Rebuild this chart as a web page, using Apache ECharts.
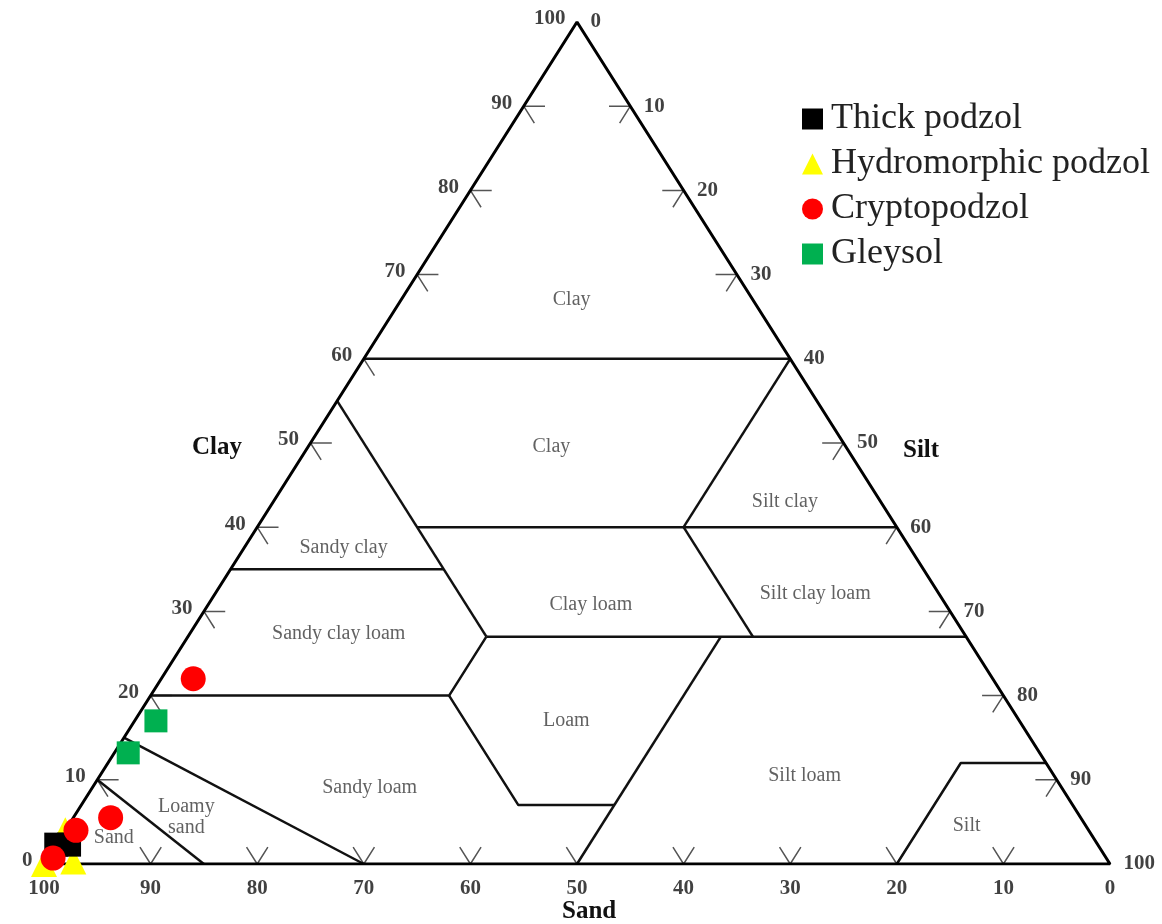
<!DOCTYPE html>
<html><head><meta charset="utf-8">
<script src="https://cdn.jsdelivr.net/npm/echarts@6/dist/echarts.min.js"></script>
<style>html,body{margin:0;padding:0;background:#fff}#c{width:1162px;height:924px}</style>
</head><body><div id="c"></div>
<script>
// ---- data (ternary points are [sand, silt, clay] in %) ----
const clayTicks = [0,10,20,30,40,50,60,70,80,90,100];
const siltTicks = [0,10,20,30,40,50,60,70,80,90,100];
const sandTicks = [100,90,80,70,60,50,40,30,20,10,0];
const arrowTicks = [10,20,30,40,50,60,70,80,90];
const seriesNames = ['Thick podzol','Hydromorphic podzol','Cryptopodzol','Gleysol'];
const thickPodzol = [[97.7,0,2.3],[96.5,1.2,2.3]];
const hydromorphicPodzol = [[100,0,0],[97.1,2.6,0.3],[96,0,4]];
const cryptopodzol = [[98.8,0.5,0.7],[95,1,4],[91,3.5,5.5],[75,3,22]];
const gleysol = [[81,2,17],[85,1.3,13.2]];
const outline = [[100,0,0],[0,100,0],[0,0,100],[100,0,0]];
const classBoundaries = [
  [[40,0,60],[0,40,60]],
  [[45,0,55],[45,28,27]],
  [[45,15,40],[0,60,40]],
  [[20,40,40],[0,40,60]],
  [[20,40,40],[20,53,27]],
  [[65,0,35],[45,20,35]],
  [[45,28,27],[0,73,27]],
  [[80,0,20],[52,28,20],[45,28,27]],
  [[52,28,20],[52,41,7],[43,50,7]],
  [[50,50,0],[23,50,27]],
  [[85,0,15],[70,30,0]],
  [[90,0,10],[85,15,0]],
  [[20,80,0],[8,80,12],[0,88,12]]
];
const classNames = ['Clay','Clay','Silt clay','Sandy clay','Clay loam','Silt clay loam','Sandy clay loam','Loam','Sandy loam','Silt loam','Silt','Loamy\nsand','Sand'];
const classAnchors = [[17,16,67],[27.6,22.8,49.6],[9,48,43],[53.1,9.3,37.6],[33.3,35.9,30.8],[11.6,56.3,32.1],[58.7,14,27.3],[42.5,40.5,17],[64.9,26,9.1],[23.4,66.1,10.5],[11.2,84.3,4.5],[83.9,10.6,5.5],[91.9,5,3.1]];

// ---- helpers ----
const toXY = t => [t[1] + t[2] / 2, t[2]];
const FONT = 'Liberation Serif';

const series = [];
series.push({type:'line', data: outline.map(toXY), symbol:'none', silent:true, z:5,
  lineStyle:{color:'#000', width:3}});
classBoundaries.forEach(pl => series.push({type:'line', data: pl.map(toXY), symbol:'none', silent:true, z:4,
  lineStyle:{color:'#111', width:2.5}}));
const tickStyle = {color:'#555', width:1.5};
arrowTicks.forEach(c => {
  series.push({type:'line', symbol:'none', silent:true, z:3, lineStyle:tickStyle,
    data:[[100-c-2,2,c],[100-c,0,c],[100-c,2,c-2]].map(toXY)});
  series.push({type:'line', symbol:'none', silent:true, z:3, lineStyle:tickStyle,
    data:[[2,c-2,100-c],[0,c,100-c],[2,c,98-c]].map(toXY)});
  series.push({type:'line', symbol:'none', silent:true, z:3, lineStyle:tickStyle,
    data:[[c-2,100-c,2],[c,100-c,0],[c,98-c,2]].map(toXY)});
});
const hidden = {color:'transparent'};
const tickLabel = {show:true, color:'#111', fontFamily:FONT, fontWeight:'bold', fontSize:21,
  formatter: p => p.name};
series.push({type:'scatter', silent:true, symbolSize:1, itemStyle:hidden, z:6,
  label:Object.assign({}, tickLabel, {position:'left', distance:11, offset:[0,-3]}),
  data: clayTicks.map(c => ({name:String(c), value: toXY([100-c,0,c])}))});
series.push({type:'scatter', silent:true, symbolSize:1, itemStyle:hidden, z:6,
  label:Object.assign({}, tickLabel, {position:'right', distance:13, offset:[0,0]}),
  data: siltTicks.map(s => ({name:String(s), value: toXY([0,s,100-s])}))});
series.push({type:'scatter', silent:true, symbolSize:1, itemStyle:hidden, z:6,
  label:Object.assign({}, tickLabel, {position:'bottom', distance:14}),
  data: sandTicks.map(v => ({name:String(v), value: toXY([v,100-v,0])}))});
series.push({type:'scatter', silent:true, symbolSize:1, itemStyle:hidden, z:6,
  label:{show:true, position:'inside', color:'#3a3a3a', fontFamily:FONT, fontSize:20, lineHeight:21,
    formatter: p => p.name},
  data: classNames.map((n,i) => ({name:n, value: toXY(classAnchors[i])}))});
const dataSets = [thickPodzol, hydromorphicPodzol, cryptopodzol, gleysol];
const symbols = ['rect','triangle','circle','rect'];
const colors = ['#000000','#ffff00','#ff0000','#00b050'];
const sizes = [24, 26, 25, 23];
const zs = [11, 10, 12, 11];
seriesNames.forEach((n,i) => series.push({
  name:n, type:'scatter', symbol:symbols[i], symbolSize:sizes[i], z:zs[i],
  itemStyle:{color:colors[i], opacity:1}, data: dataSets[i].map(toXY)
}));

const chart = echarts.init(document.getElementById('c'), null, {renderer:'canvas'});
chart.setOption({
  animation:false,
  backgroundColor:'#fff',
  grid:{left:44, top:22, width:1066, height:842, containLabel:false},
  xAxis:{type:'value', min:0, max:100, show:false},
  yAxis:{type:'value', min:0, max:100, show:false},
  legend:{
    orient:'vertical', left:802, top:101, padding:0, itemGap:9,
    itemWidth:21, itemHeight:21,
    textStyle:{fontFamily:FONT, fontSize:36, color:'#222', padding:[0,0,0,3]},
    data: seriesNames.map((n,i) => ({name:n, icon:symbols[i]}))
  },
  graphic:[
    {type:'text', left:192, top:435, style:{text:'Clay', font:'bold 25px "Liberation Serif"', fill:'#111'}},
    {type:'text', left:903, top:438, style:{text:'Silt', font:'bold 25px "Liberation Serif"', fill:'#111'}},
    {type:'text', left:562, top:899, style:{text:'Sand', font:'bold 25px "Liberation Serif"', fill:'#111'}}
  ],
  series: series
});
</script></body></html>
